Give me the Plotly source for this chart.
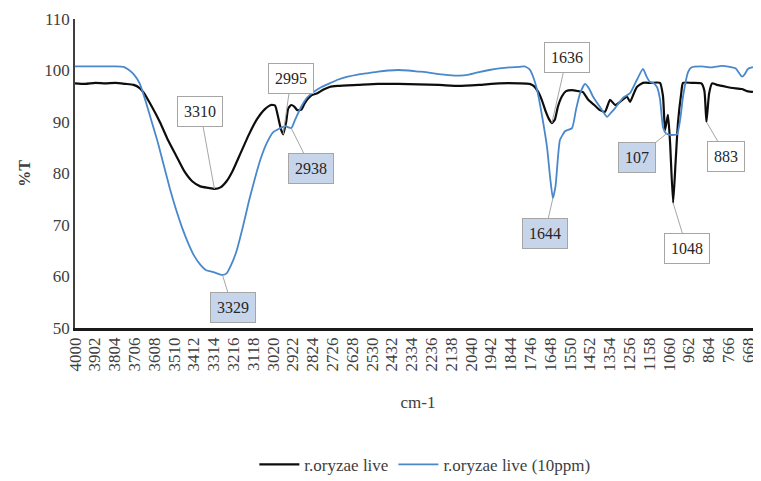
import plotly.graph_objects as go

# ---- data ----
wn_live = [4000, 3950, 3900, 3850, 3800, 3750, 3710, 3680, 3660, 3620, 3580, 3540, 3500, 3460,
           3420, 3380, 3340, 3310, 3280, 3250, 3220, 3180, 3140, 3100, 3060, 3030, 3010, 2995,
           2980, 2970, 2955, 2945, 2930, 2915, 2900, 2880, 2865, 2850, 2830, 2800, 2770, 2740,
           2700, 2600, 2500, 2400, 2300, 2200, 2100, 2000, 1900, 1800, 1750, 1730, 1710, 1690,
           1670, 1655, 1640, 1625, 1610, 1590, 1570, 1540, 1510, 1486, 1460, 1430, 1402, 1377,
           1352, 1327, 1303, 1268, 1253, 1235, 1219, 1189, 1150, 1105, 1090, 1080, 1070, 1065,
           1055, 1040, 1028, 1016, 1000, 991, 950, 900, 885, 875, 862, 847, 823, 773, 744, 700,
           675, 640, 625, 612, 605]
t_live = [97.5, 97.4, 97.6, 97.5, 97.6, 97.4, 97.2, 96.6, 95.7, 93.0, 90.0, 86.5, 83.5, 80.5,
          78.5, 77.5, 77.2, 77.0, 77.3, 78.5, 80.5, 84.0, 87.5, 90.5, 92.5, 93.3, 93.2, 91.0,
          88.5, 87.6, 90.0, 92.6, 93.3, 93.0, 92.3, 92.4, 93.5, 94.4, 95.2, 95.6, 96.3, 96.8,
          97.0, 97.2, 97.4, 97.4, 97.3, 97.2, 97.0, 97.2, 97.5, 97.5, 97.4, 97.0, 96.0, 94.3,
          92.0, 90.6, 89.8, 90.5, 93.0, 95.0, 96.0, 96.2, 96.0, 95.8, 94.3, 93.3, 92.3, 92.0,
          94.3, 93.3, 93.9, 94.9, 93.9, 95.5, 96.8, 97.6, 97.6, 97.6, 95.0, 88.4, 90.5, 91.4,
          86.0, 74.3, 82.0, 89.8, 95.5, 97.6, 97.6, 97.5, 96.0, 90.0, 95.5, 97.5, 97.2, 96.8,
          96.6, 96.4, 96.0, 95.9, 96.2, 97.2, 98.0]

wn_10ppm = [4000, 3900, 3800, 3760, 3740, 3710, 3680, 3650, 3620, 3590, 3560, 3530, 3500, 3470,
            3440, 3410, 3380, 3350, 3320, 3290, 3270, 3250, 3230, 3200, 3170, 3140, 3110, 3080,
            3050, 3020, 2990, 2960, 2930, 2910, 2880, 2850, 2820, 2780, 2740, 2700, 2650, 2600,
            2550, 2500, 2450, 2400, 2350, 2300, 2250, 2200, 2150, 2100, 2050, 2000, 1950, 1900,
            1850, 1800, 1775, 1750, 1730, 1713, 1690, 1664, 1648, 1635, 1622, 1600, 1575, 1565,
            1540, 1520, 1500, 1476, 1456, 1436, 1400, 1367, 1347, 1327, 1288, 1253, 1219, 1189,
            1170, 1155, 1139, 1120, 1105, 1090, 1075, 1055, 1035, 1020, 1005, 991, 966, 950,
            900, 850, 800, 760, 730, 715, 699, 685, 670, 650, 625, 605]
t_10ppm = [100.8, 100.8, 100.8, 100.7, 100.3, 99.3, 97.5, 94.0, 90.0, 86.0, 81.5, 77.0, 73.0,
           69.5, 66.5, 64.0, 62.3, 61.2, 60.9, 60.5, 60.3, 60.6, 62.0, 65.0, 69.5, 74.5, 79.0,
           83.0, 86.0, 88.0, 88.7, 89.2, 88.8, 90.5, 93.0, 94.8, 95.8, 96.8, 97.5, 98.2, 98.8,
           99.2, 99.5, 99.8, 100.0, 100.1, 100.0, 99.8, 99.6, 99.3, 99.1, 99.0, 99.2, 99.7,
           100.1, 100.4, 100.6, 100.7, 100.8, 100.2, 98.5, 96.2, 91.5, 85.1, 79.0, 75.2, 77.5,
           86.5, 88.2, 88.4, 88.8, 92.5, 95.6, 97.4, 96.5, 94.9, 92.8, 91.0, 91.8, 92.7, 94.7,
           95.6, 98.2, 100.3, 98.7, 97.8, 97.6, 96.8, 94.5, 89.0, 87.8, 87.5, 87.5, 87.6, 90.5,
           94.9, 99.7, 100.6, 100.8, 100.6, 100.9, 100.7, 100.4, 99.6, 98.8, 99.3, 100.3, 100.6,
           100.7, 100.5]

tick_labels = [4000, 3902, 3804, 3706, 3608, 3510, 3412, 3314, 3216, 3118, 3020, 2922, 2824,
               2726, 2628, 2530, 2432, 2334, 2236, 2138, 2040, 1942, 1844, 1746, 1648, 1550,
               1452, 1354, 1256, 1158, 1060, 962, 864, 766, 668]

y_ticks = [50, 60, 70, 80, 90, 100, 110]

# peak labels: text, wavenumber, %T, series ("live" = white box, "10ppm" = blue box), box offset
peak_text = ["3310", "2995", "2938", "3329", "1636", "1644", "107", "1048", "883"]
peak_wn = [3310, 2970, 2930, 3270, 1640, 1635, 1070, 1040, 875]
peak_t = [77.0, 87.6, 88.8, 60.3, 89.8, 75.2, 87.8, 74.3, 90.0]
peak_series = ["live", "live", "10ppm", "10ppm", "live", "10ppm", "10ppm", "live", "live"]
peak_ax = [-14, 8, 20, 10, 15, -8, -30, 14, 20]
peak_ay = [-77, -56, 40, 33, -66, 35, 24, 46, 34]

SERIF = "Liberation Serif, Times New Roman, serif"
BLACK = "#0d0d0d"
BLUE = "#4a88cc"
GREY = "#404040"

fig = go.Figure()
fig.add_trace(go.Scatter(x=wn_live, y=t_live, mode="lines", name="r.oryzae live",
                         line=dict(color=BLACK, width=2.2, shape="spline", smoothing=0.5)))
fig.add_trace(go.Scatter(x=wn_10ppm, y=t_10ppm, mode="lines", name="r.oryzae live (10ppm)",
                         line=dict(color=BLUE, width=1.8, shape="spline", smoothing=0.5)))

for txt, x, y, s, ax, ay in zip(peak_text, peak_wn, peak_t, peak_series, peak_ax, peak_ay):
    fig.add_annotation(x=x, y=y, text=txt, showarrow=True, arrowhead=0, arrowwidth=1,
                       arrowcolor="#a6a6a6", ax=ax, ay=ay, standoff=0,
                       bgcolor="#ffffff" if s == "live" else "#c7d5eb",
                       bordercolor="#a6a6a6", borderwidth=1, borderpad=6,
                       font=dict(family=SERIF, size=16, color="#262626"))

# the page body has an 8px default margin, so the figure is 8px smaller than the window
fig.update_layout(
    width=753, height=473,
    margin=dict(l=67, r=0, t=11, b=153, autoexpand=False),
    paper_bgcolor="white", plot_bgcolor="white",
    font=dict(family=SERIF, color=GREY),
    showlegend=True,
    legend=dict(orientation="h", x=0.51, xanchor="center", y=-0.443, yanchor="middle",
                font=dict(family=SERIF, size=17, color=GREY), itemwidth=40),
)
fig.update_xaxes(range=[4000, 605], tickmode="array", tickvals=tick_labels,
                 ticktext=[str(v) for v in tick_labels], tickangle=-90, automargin=False,
                 tickfont=dict(family=SERIF, size=17, color=GREY),
                 showgrid=False, zeroline=False, showline=True, linecolor="#1a1a1a",
                 linewidth=2.5, ticks="", ticklen=0,
                 title=dict(text="cm-1", font=dict(family=SERIF, size=17, color=GREY),
                            standoff=26))
fig.update_yaxes(range=[50, 110], tickmode="array", tickvals=y_ticks, automargin=False,
                 tickfont=dict(family=SERIF, size=17, color=GREY),
                 showgrid=False, zeroline=False, showline=True, linecolor=GREY,
                 linewidth=1.5, ticks="", ticklen=0,
                 title=dict(text="<b>%T</b>", font=dict(family=SERIF, size=16, color=GREY),
                            standoff=10))

fig.write_html("out.html")
